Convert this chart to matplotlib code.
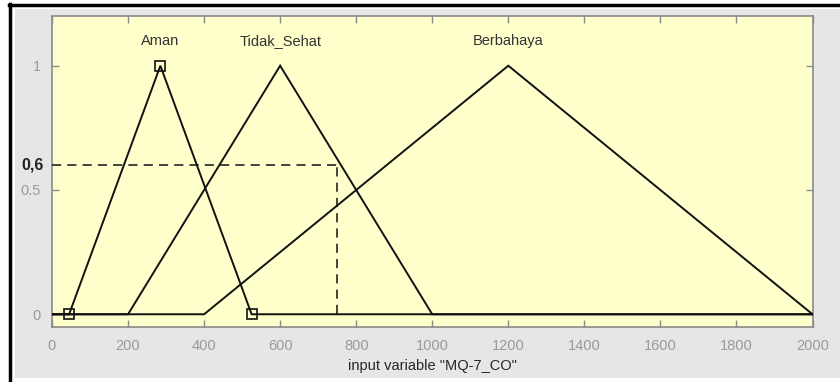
import matplotlib
matplotlib.use("Agg")
import matplotlib.pyplot as plt
from matplotlib.lines import Line2D
from matplotlib.patches import Rectangle

plt.rcParams['font.family'] = ['Liberation Sans', 'DejaVu Sans']

# ---- data ----
mf_names = ["Aman", "Tidak_Sehat", "Berbahaya"]
aman_params = [45, 285, 525]
tidak_sehat_params = [200, 600, 1000]
berbahaya_params = [400, 1200, 2000]
x_range = [0, 2000]
x_ticks = [0, 200, 400, 600, 800, 1000, 1200, 1400, 1600, 1800, 2000]
y_ticks = [0, 0.5, 1]
y_tick_labels = ["0", "0.5", "1"]
input_value = 750
membership_value = 0.6
membership_label = "0,6"
x_label = 'input variable "MQ-7_CO"'

W, H = 840, 382
fig = plt.figure(figsize=(W / 100, H / 100), dpi=100)
fig.patch.set_facecolor('white')

# grey figure panel and black frame
fig.add_artist(Rectangle((15 / W, 1 - 378 / H), (W - 15) / W, (378 - 9) / H,
                         transform=fig.transFigure, facecolor='#e6e6e6', edgecolor='none', zorder=0))
fig.add_artist(Line2D([9.5 / W, 9.5 / W], [0, 1 - 4 / H], transform=fig.transFigure,
                      color='black', lw=2.5, zorder=1))
fig.add_artist(Line2D([8.5 / W, 1], [1 - 4.5 / H, 1 - 4.5 / H], transform=fig.transFigure,
                      color='black', lw=2.5, zorder=1))

ax = fig.add_axes([52 / W, 1 - 326.7 / H, 760.5 / W, (326.7 - 16) / H])
ax.set_facecolor('#ffffcc')
ax.set_xlim(x_range)
ax.set_ylim(-0.05, 1.2)

line_kw = dict(color='#111111', lw=1.4, solid_joinstyle='miter')
params = [aman_params, tidak_sehat_params, berbahaya_params]
for name, p in zip(mf_names, params):
    xs = [x_range[0], p[0], p[1], p[2], x_range[1]]
    ys = [0, 0, 1, 0, 0]
    ax.plot(xs, ys, **line_kw, zorder=3)
    ax.text(p[1], 1.10, name, ha='center', va='center', fontsize=10.5, color='#333333')

# selected MF markers
ax.plot(aman_params, [0, 1, 0], linestyle='none', marker='s', markersize=7.5,
        markerfacecolor='none', markeredgecolor='#111111', markeredgewidth=1.2, zorder=4,
        clip_on=False)

# dashed guide lines
ax.plot([x_range[0], input_value], [membership_value, membership_value], color='#111111',
        lw=1.1, dashes=(6, 4), zorder=3)
ax.plot([input_value, input_value], [0, membership_value], color='#111111',
        lw=1.1, dashes=(6, 4), zorder=3)

ax.set_xticks(x_ticks)
ax.set_yticks(y_ticks)
ax.set_yticklabels(y_tick_labels)
ax.tick_params(direction='in', length=5, width=1, colors='#8a8a8a', labelsize=10.5,
               top=True, right=True, labelcolor='#9a9a9a', pad=9)
ax.tick_params(axis='y', pad=8)
for s in ax.spines.values():
    s.set_color('#8a8a8a')
    s.set_linewidth(1.2)

ax.set_xlabel(x_label, fontsize=10.5, color='#262626')
ax.xaxis.set_label_coords(0.5, -0.105)

# "0,6" annotation outside the axes
ax.text(-0.011, membership_value, membership_label, transform=ax.get_yaxis_transform(),
        ha='right', va='center', fontsize=11.5, color='#222222', fontweight='bold')

fig.savefig('out.png', dpi=100, facecolor=fig.get_facecolor())
